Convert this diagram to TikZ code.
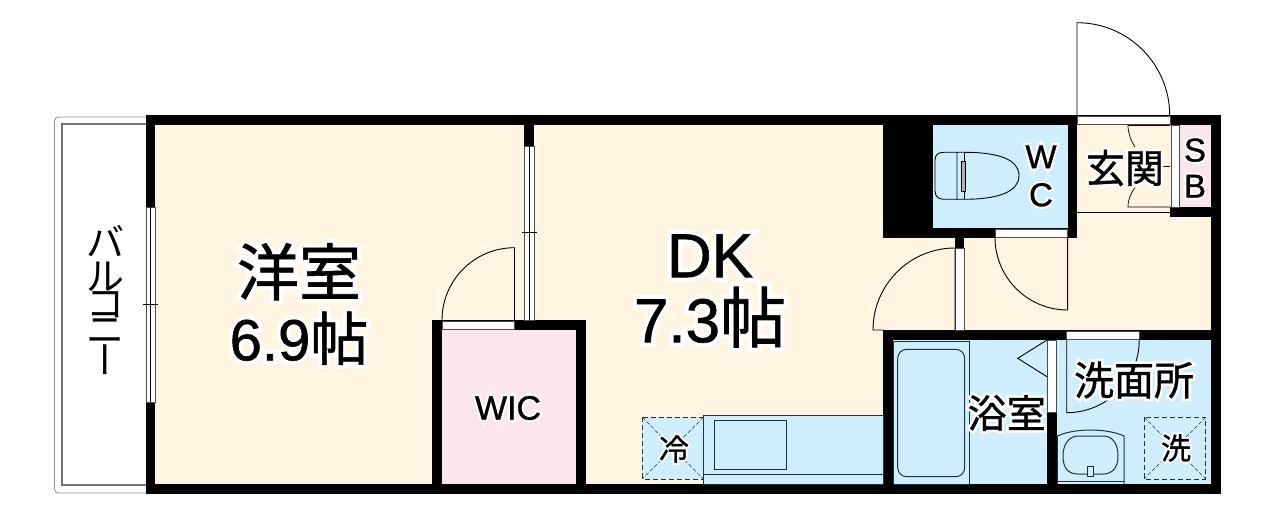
\documentclass[tikz,border=0pt]{standalone}
\usepackage{fontspec}
\setmainfont[FakeBold=1]{Liberation Sans}
\newfontfamily\cjk[FakeBold=1]{Noto Sans CJK JP}
\newfontfamily\cjkthin{Noto Sans CJK JP}
\newfontfamily\cjkvert[RawFeature=+vert]{Noto Sans CJK JP}
\newfontfamily\cjkhalo[FakeBold=14]{Noto Sans CJK JP}
\newfontfamily\enhalo[FakeBold=14]{Liberation Sans}
\newcommand{\jptext}[1]{\leavevmode\rlap{\color{white}\cjkhalo #1}{\cjk #1}}
\newcommand{\entext}[1]{\leavevmode\rlap{\color{white}\enhalo #1}#1}
\definecolor{floorcream}{HTML}{FFF5E1}
\definecolor{wetblue}{HTML}{CFEEFD}
\definecolor{storepink}{HTML}{FBE6F0}
\definecolor{fixture}{HTML}{1E3338}
\tikzset{
    wall/.style={fill=black},
    opening/.style={fill=white, draw=black!70, line width=0.5pt},
    leaf/.style={draw=black, line width=0.9pt},
    fitting/.style={draw=fixture, line width=1pt},
    spot/.style={draw=fixture, line width=0.8pt, dash pattern=on 5pt off 3pt},
    spotcross/.style={draw=fixture, line width=0.5pt, dash pattern=on 4pt off 2pt},
    bigroom/.style={align=center, inner sep=0pt, font=\fontsize{62}{65}\selectfont},
    smallroom/.style={align=center, inner sep=0pt, font=\fontsize{39}{42}\selectfont},
    letters/.style={align=center, inner sep=0pt, font=\fontsize{33}{38}\selectfont},
    spotname/.style={inner sep=0pt, font=\fontsize{30}{32}\selectfont}
}
\begin{document}
\begin{tikzpicture}[x=1pt, y=-1pt]
    \useasboundingbox (0,0) rectangle (1274,513);

    % balcony
    \draw[rounded corners=4pt, draw=black!45, line width=0.8pt] (146,117) -- (54.5,117) -- (54.5,493) -- (146,493);
    \draw[draw=black!55, line width=1.3pt] (146,124) -- (62,124) -- (62,485) -- (146,485);

    % floor colours
    \fill[floorcream] (155,125) rectangle (1211,484);
    \fill[storepink] (442,330) rectangle (576,484);
    \fill[wetblue] (933,125) rectangle (1068,228);
    \fill[storepink] (1179.6,125) rectangle (1211,207);
    \fill[wetblue] (893,340) rectangle (1211,484);

    % outer walls
    \fill[wall] (146,115) rectangle (1221,125);
    \fill[wall] (146,484) rectangle (1221,493.5);
    \fill[wall] (146,115) rectangle (155,493);
    \fill[wall] (1211,115) rectangle (1221,493);

    % inner walls
    \fill[wall] (524.3,125) rectangle (534.3,146);
    \fill[wall] (432,320) rectangle (442,484);
    \fill[wall] (432,320) rectangle (586,330);
    \fill[wall] (576,320) rectangle (586,484);
    \fill[wall] (883,115) rectangle (933.3,237.5);
    \fill[wall] (883,228) rectangle (1077,237.5);
    \fill[wall] (1067.6,115) rectangle (1077,237.5);
    \fill[wall] (1170,207) rectangle (1221,217);
    \fill[wall] (955,237) rectangle (964.3,248);
    \fill[wall] (883,330) rectangle (1221,340);
    \fill[wall] (883,330) rectangle (893.3,493);
    \fill[wall] (1047,412) rectangle (1057,484);

    % windows and sliding doors
    \draw[opening] (146,207) rectangle (155,402);
    \draw[black, line width=0.6pt] (150.5,207) -- (150.5,402);
    \draw[black, line width=0.6pt] (143,304) -- (158,304);
    \draw[opening] (524.3,146) rectangle (534.3,320);
    \draw[black, line width=0.6pt] (529.3,146) -- (529.3,320);
    \draw[black, line width=0.6pt] (522,232.7) -- (537,232.7);

    % door openings
    \draw[opening] (1077,116.5) rectangle (1170,124.5);
    \draw[opening] (442,321) rectangle (514.5,329);
    \draw[opening] (995,229) rectangle (1067.6,237);
    \draw[opening] (955,248) rectangle (964.3,330);
    \draw[opening] (1066.7,331) rectangle (1139,339);
    \draw[opening] (1047,340) rectangle (1056.7,412.7);
    \draw[opening] (1171,125) rectangle (1179.6,207);

    % door leaves
    \draw[leaf] (1077,115) -- (1077,22.7) arc[start angle=90, end angle=0, radius=92.7pt];
    \draw[leaf] (514.5,320) -- (514.5,247.7) arc[start angle=90, end angle=180, radius=72.5pt];
    \draw[leaf] (1067.6,237) -- (1067.6,310) arc[start angle=270, end angle=180, radius=72.6pt];
    \draw[leaf] (955,330) -- (955,248) arc[start angle=90, end angle=180, radius=82pt] -- (883,330);
    \draw[leaf] (1066.7,340) -- (1066.7,412.7) arc[start angle=270, end angle=360, radius=72.5pt];
    \draw[leaf] (1047,340) -- (1017.7,358.3) -- (1047,376.7);
    \draw[black, line width=0.6pt] (1077,212) -- (1170,212);

    % folding door of the shoe box
    \draw[black, line width=0.7pt] (1170,125.5) -- (1128,125.5) .. controls (1128,133) and (1131,141) .. (1135,147);
    \draw[black, line width=0.7pt] (1170,207) -- (1128,207) .. controls (1128,199) and (1131,193) .. (1135,187.5);
    \draw[black, line width=0.6pt] (1163,166) -- (1170,166);

    % toilet
    \draw[leaf] (957,152.3) -- (944,152.3) .. controls (938,152.3) and (935,155) .. (935,160) -- (935,191) .. controls (935,196) and (938,199.3) .. (944,199.3) -- (957,199.3) -- cycle;
    \draw[leaf] (957,152.3) -- (964,152.3) .. controls (1000,152.3) and (1019,160) .. (1019,175.7) .. controls (1019,191) and (1000,199.3) .. (964,199.3) -- (957,199.3);
    \draw[leaf, line width=0.6pt] (964,152.3) -- (964,199.3);
    \draw[leaf, fill=black!30, line width=0.5pt] (961.7,161) rectangle (965.3,191);

    % bath
    \draw[fitting, line width=0.8pt] (893.3,341) rectangle (969.7,484);
    \draw[fitting, rounded corners=9pt] (897.7,349.3) rectangle (964.7,476.7);

    % wash basin
    \draw[fitting] (1057.3,484) -- (1057.3,436) .. controls (1075,428) and (1106,428) .. (1124,436) -- (1124,484);
    \draw[fitting] (1057.3,481) -- (1124,481);
    \draw[fitting] (1063,456) .. controls (1063,441) and (1072,436) .. (1078,436) -- (1103,436) .. controls (1112,436) and (1118,443) .. (1118,456) .. controls (1118,468) and (1112,474) .. (1103,474) -- (1078,474) .. controls (1068,474) and (1063,468) .. (1063,456) -- cycle;
    \draw[fitting, fill=wetblue] (1087.7,466) rectangle (1093.3,476);

    % washing machine place
    \draw[spot] (1144,417.3) rectangle (1205.7,479);
    \draw[spotcross] (1144,417.3) -- (1205.7,479);
    \draw[spotcross] (1205.7,417.3) -- (1144,479);

    % kitchen
    \draw[fitting, fill=wetblue] (703.3,415.7) rectangle (883,484);
    \draw[fitting] (703.3,474.3) -- (883,474.3);
    \draw[fitting] (714.3,420.7) rectangle (786.7,469);

    % fridge place
    \fill[wetblue] (642.3,417.3) rectangle (703.3,479);
    \draw[spot] (642.3,417.3) rectangle (703.3,479);
    \draw[spotcross] (642.3,417.3) -- (703.3,479);
    \draw[spotcross] (703.3,417.3) -- (642.3,479);

    % room names
    \node[bigroom] (yoshitsu) at (299,304) {\jptext{洋室}\\\fontsize{58}{65}\selectfont\entext{6.9}\jptext{帖}};
    \node[bigroom] (dk) at (710,291) {\entext{DK}\\\entext{7.3}\fontsize{66}{65}\selectfont\jptext{帖}};
    \node[letters, font=\fontsize{34}{36}\selectfont] (wic) at (508,408) {\entext{WIC}};
    \node[letters] (wc) at (1041,176) {\entext{W}\\\entext{C}};
    \node[letters, font=\fontsize{33}{36}\selectfont] (sb) at (1195,168) {\entext{S}\\\entext{B}};
    \node[smallroom] (genkan) at (1125,168) {\jptext{玄関}};
    \node[smallroom, font=\fontsize{40}{42}\selectfont] (senmen) at (1134,380) {\jptext{洗面所}};
    \node[smallroom] (yokushitsu) at (1006.7,413) {\jptext{浴室}};
    \node[spotname] (sentaku) at (1176,448) {\jptext{洗}};
    \node[spotname] (reizo) at (674,449) {\jptext{冷}};
    \node[align=center, inner sep=0pt, font=\fontsize{38}{29}\selectfont\cjkthin] (balcony) at (105,300) {バ\\[5pt]ル\\[-2pt]コ\\[-3pt]ニ\\{\cjkvert ー}};
\end{tikzpicture}
\end{document}
